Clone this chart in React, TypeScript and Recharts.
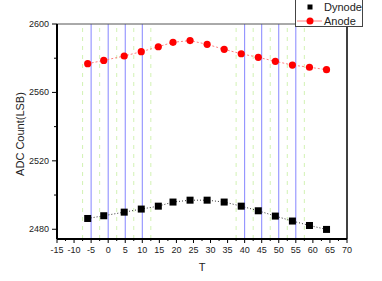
import React from "react";
import { ComposedChart, Line, XAxis, YAxis, ReferenceLine } from "recharts";

const temps = [-6, -1.3, 4.7, 9.7, 14.7, 19, 24, 29, 34, 39, 44, 49, 54, 59, 64];
const dynode = [2486.3, 2487.9, 2490, 2491.8, 2493.5, 2495.9, 2497, 2497, 2495.9, 2493.5, 2490.8, 2487.7, 2484.8, 2482.2, 2479.9];
const anode = [2576.8, 2578.7, 2581.3, 2583.8, 2586.7, 2589.3, 2590.3, 2588.1, 2585.2, 2582.6, 2580.5, 2578.2, 2576.0, 2574.7, 2573.3];
const xTicks = [-15, -12.5, -10, -7.5, -5, -2.5, 0, 2.5, 5, 7.5, 10, 12.5, 15, 17.5, 20, 22.5, 25, 27.5, 30, 32.5, 35, 37.5, 40, 42.5, 45, 47.5, 50, 52.5, 55, 57.5, 60, 62.5, 65, 67.5, 70];
const yTicks = [2480, 2500, 2520, 2540, 2560, 2580, 2600];
const blueLines = [-5, 0, 5, 10, 40, 45, 50, 55];
const greenLines = [-7.5, -2.5, 2.5, 7.5, 12.5, 37.5, 42.5, 47.5, 52.5, 57.5];

const data = temps.map((t, i) => ({ t, dynode: dynode[i], anode: anode[i] }));

const FONT = "'Liberation Sans', Arial, sans-serif";

const XTick = (props: any) => {
  const { x, y, payload } = props;
  const v = payload.value;
  const major = Math.abs(v % 5) < 1e-6;
  return (
    <g>
      <line x1={x} x2={x} y1={y} y2={y + (major ? 4 : 2)} stroke="#000" strokeWidth={1} />
      {major && (
        <text x={x} y={y + 14} textAnchor="middle" fontSize={9} fontFamily={FONT} fill="#222">
          {v}
        </text>
      )}
    </g>
  );
};

const YTick = (props: any) => {
  const { x, y, payload } = props;
  const v = payload.value;
  const major = Math.abs((v - 2480) % 40) < 1e-6;
  return (
    <g>
      <line x1={x - (major ? 5 : 3)} x2={x} y1={y} y2={y} stroke="#000" strokeWidth={1} />
      {major && (
        <text x={x - 8} y={y + 3} textAnchor="end" fontSize={9} fontFamily={FONT} fill="#222">
          {v}
        </text>
      )}
    </g>
  );
};

const SquareDot = (props: any) => {
  const { cx, cy } = props;
  if (cx == null || cy == null) return null;
  return <rect x={cx - 3.5} y={cy - 3.5} width={7} height={7} fill="#000" />;
};

const CircleDot = (props: any) => {
  const { cx, cy } = props;
  if (cx == null || cy == null) return null;
  return <circle cx={cx} cy={cy} r={3.6} fill="#ff0000" />;
};

export default function App() {
  return (
    <div style={{ position: "absolute", left: 0, top: 0, width: 382, height: 281, background: "#fff" }}>
      <ComposedChart width={382} height={281} data={data} margin={{ top: 24, right: 35, left: 0, bottom: 0 }}>
        <XAxis
          dataKey="t"
          type="number"
          domain={[-15, 70]}
          ticks={xTicks}
          interval={0}
          tickSize={0}
          tickMargin={0}
          tickLine={false}
          tick={<XTick />}
          height={42}
          axisLine={{ stroke: "#000", strokeWidth: 2 }}
          label={{ value: "T", position: "insideBottom", offset: 10, fontSize: 11, fontFamily: FONT, fill: "#222" }}
          allowDataOverflow
        />
        <YAxis
          type="number"
          domain={[2474.3, 2600]}
          ticks={yTicks}
          interval={0}
          tickSize={0}
          tickMargin={0}
          tickLine={false}
          tick={<YTick />}
          width={57}
          axisLine={{ stroke: "#000", strokeWidth: 2 }}
          allowDataOverflow
        />
        {greenLines.map((g) => (
          <ReferenceLine key={"g" + g} x={g} stroke="#d2f2b4" strokeDasharray="4 5" strokeWidth={1} />
        ))}
        {blueLines.map((b) => (
          <ReferenceLine key={"b" + b} x={b} stroke="#8585ff" strokeWidth={1} />
        ))}
        <ReferenceLine y={2600} stroke="#555" strokeWidth={1} />
        <ReferenceLine x={70} stroke="#000" strokeWidth={1.5} />
        <Line
          dataKey="dynode"
          stroke="#333"
          strokeWidth={1}
          strokeDasharray="1 2"
          dot={<SquareDot />}
          isAnimationActive={false}
        />
        <Line
          dataKey="anode"
          stroke="#ff8080"
          strokeWidth={1}
          strokeDasharray="2 2"
          dot={<CircleDot />}
          isAnimationActive={false}
        />
      </ComposedChart>
      <div
        style={{
          position: "absolute",
          left: 20,
          top: 134,
          transform: "translate(-50%, -50%) rotate(-90deg)",
          fontFamily: FONT,
          fontSize: 11,
          color: "#222",
          whiteSpace: "nowrap",
        }}
      >
        ADC Count(LSB)
      </div>
      <svg
        width={70}
        height={29}
        style={{ position: "absolute", left: 295, top: -1 }}
      >
        <rect x={0.5} y={0.5} width={67} height={27} fill="#fff" stroke="#444" strokeWidth={1} />
        <rect x={12.5} y={5.5} width={5} height={5} fill="#000" />
        <text x={29} y={12} fontSize={11} fontFamily={FONT} fill="#222">Dynode</text>
        <line x1={2} x2={27} y1={22} y2={22} stroke="#ff8080" strokeWidth={1} />
        <circle cx={15} cy={22} r={3.5} fill="#ff0000" />
        <text x={29} y={26} fontSize={11} fontFamily={FONT} fill="#222">Anode</text>
      </svg>
    </div>
  );
}
